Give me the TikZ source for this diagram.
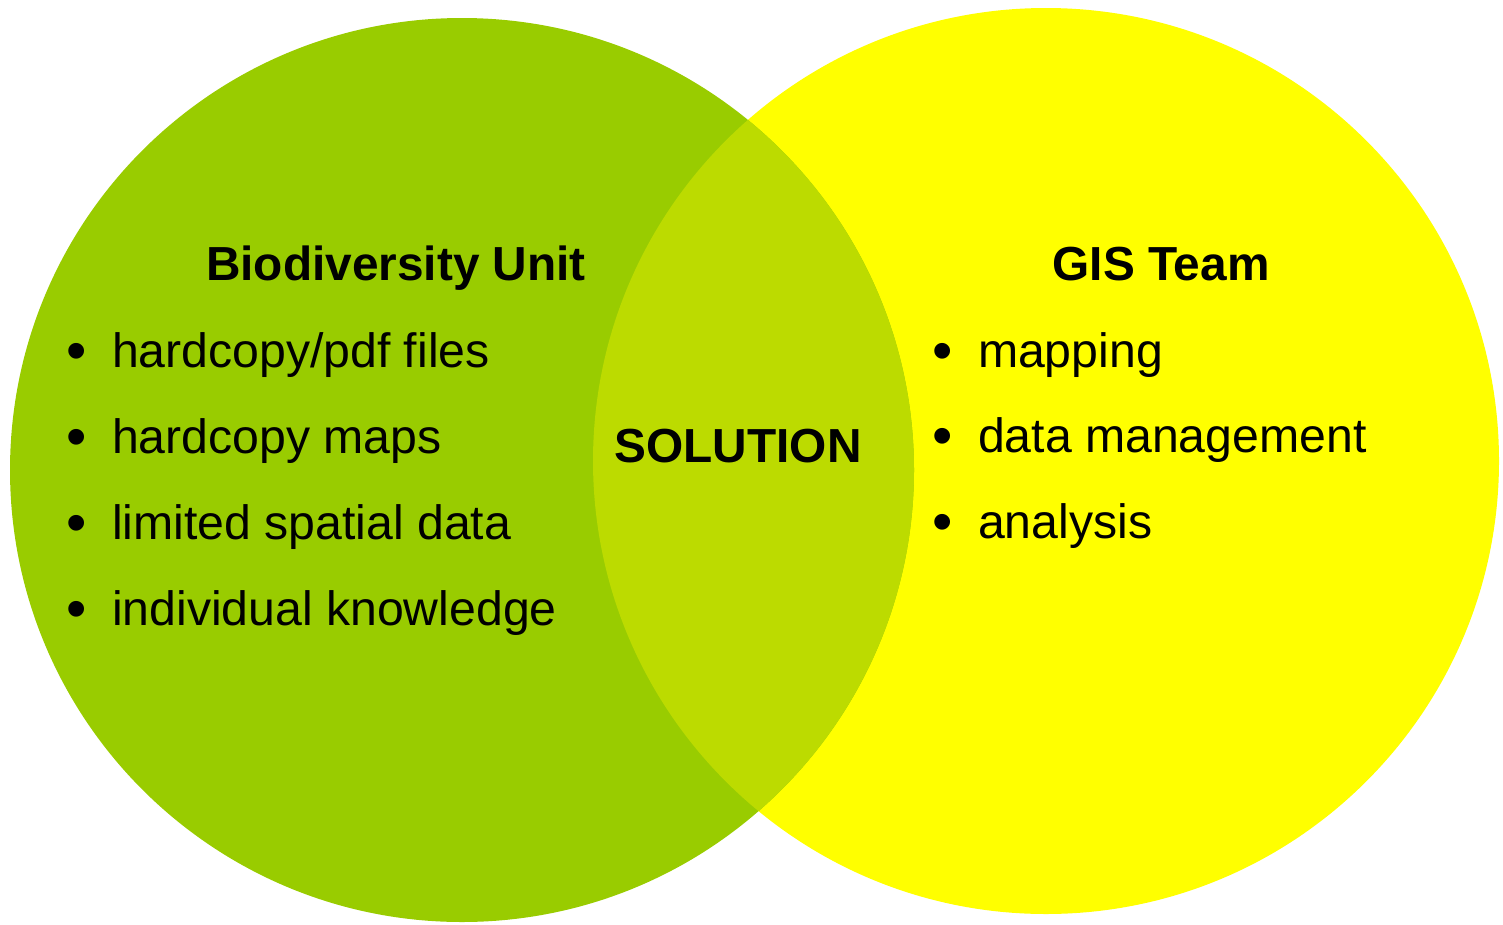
\documentclass[tikz,border=0pt]{standalone}
\usepackage{fontspec}
\setmainfont{Liberation Sans}
\definecolor{bioGreen}{HTML}{99CC00}
\definecolor{gisYellow}{HTML}{FFFF00}
\definecolor{overlapCol}{RGB}{188,219,0}
\begin{document}
\begin{tikzpicture}[x=1pt,y=-1pt,
  txt/.style={inner sep=0pt,outer sep=0pt,font=\fontsize{48.2}{58}\selectfont},
  title/.style={txt,font=\fontsize{47.8}{58}\selectfont\bfseries,anchor=base},
  item/.style={txt,anchor=base west},
  bul/.style={txt,font=\fontsize{58}{64}\selectfont,anchor=base}]
\useasboundingbox (0,0) rectangle (1503,924);
\fill[gisYellow] (1046,461) circle (453);
\fill[bioGreen] (462,470) circle (452);
\begin{scope}
  \clip (462,470) circle (452);
  \fill[overlapCol] (1046,461) circle (453);
\end{scope}
% left
\node[title] (bio) at (396,280) {Biodiversity Unit};
\node[bul] (b1) at (77,370) {•};
\node[item] (l1) at (112,367) {hardcopy/pdf files};
\node[bul] (b2) at (77,456) {•};
\node[item] (l2) at (112,453) {hardcopy maps};
\node[bul] (b3) at (77,542) {•};
\node[item] (l3) at (112,539) {limited spatial data};
\node[bul] (b4) at (77,628) {•};
\node[item] (l4) at (112,625) {individual knowledge};
% middle
\node[title] (sol) at (738,462) {SOLUTION};
% right
\node[title] (gis) at (1161,280) {GIS Team};
\node[bul] (r1b) at (943,370) {•};
\node[item] (r1) at (978,367) {mapping};
\node[bul] (r2b) at (943,455) {•};
\node[item] (r2) at (978,452) {data management};
\node[bul] (r3b) at (943,541) {•};
\node[item] (r3) at (978,538) {analysis};
\end{tikzpicture}
\end{document}
